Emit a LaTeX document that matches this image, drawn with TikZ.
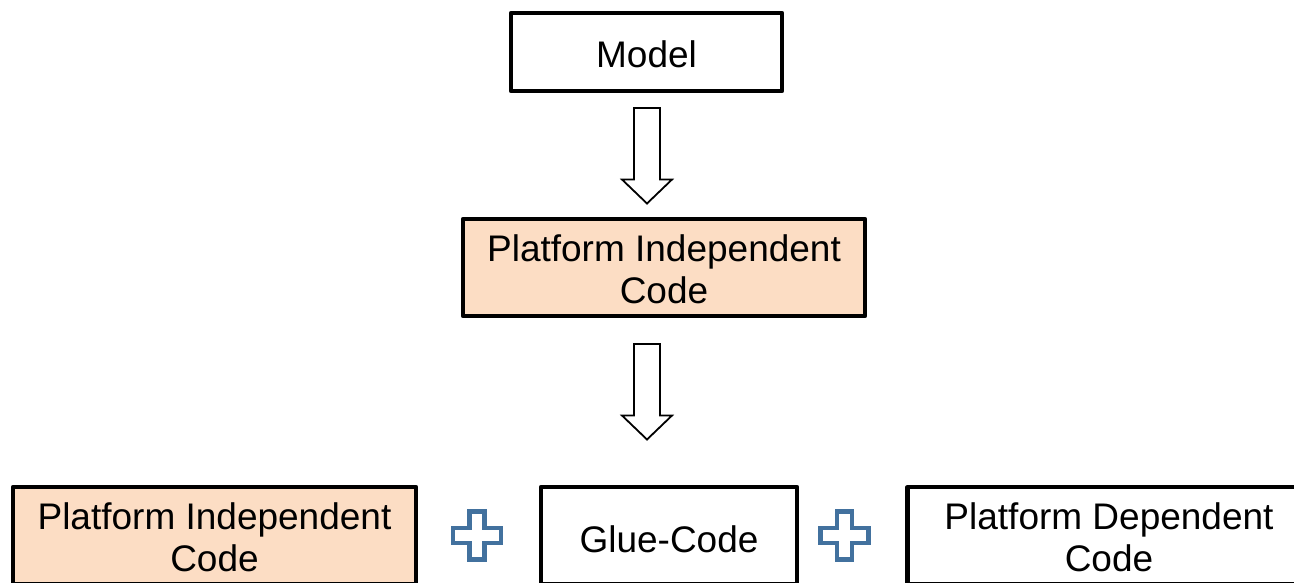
\documentclass[tikz,border=0pt]{standalone}
\usepackage{fontspec}
\setmainfont{Liberation Sans}
\definecolor{peach}{RGB}{252,221,196}
\definecolor{plusblue}{RGB}{66,113,158}
\tikzset{
  box/.style={draw=black, line width=4.2pt, line join=round, rectangle,
    inner sep=0pt, align=center, minimum height=97pt,
    font=\fontsize{37}{42}\selectfont},
  twoline/.style={text height=73pt},
  peachbox/.style={box, fill=peach},
  plainbox/.style={box, fill=white},
  pics/downarrow/.style={code={
    \draw[black, fill=white, line width=1.8pt, line join=miter]
      (-13,0) -- (13,0) -- (13,71.5) -- (25,71.5) -- (0,95.5)
      -- (-25,71.5) -- (-13,71.5) -- cycle;}},
  pics/plussign/.style={code={
    \draw[plusblue, fill=white, line width=4.6pt, line join=miter]
      (-7.5,-24) -- (7.5,-24) -- (7.5,-7.5) -- (24,-7.5) -- (24,7.5)
      -- (7.5,7.5) -- (7.5,24) -- (-7.5,24) -- (-7.5,7.5) -- (-24,7.5)
      -- (-24,-7.5) -- (-7.5,-7.5) -- cycle;}}
}
\begin{document}
\begin{tikzpicture}[x=1pt, y=-1pt]
  \clip (0,0) rectangle (1294,582);
  \fill[white] (0,0) rectangle (1294,582);

  % model and generated code
  \node[plainbox, minimum width=271pt, minimum height=78pt, text height=31pt] (model) at (646.5,52) {Model};
  \node[peachbox, twoline, minimum width=402pt] (pic) at (664,267.5) {Platform Independent\\Code};

  % transformation arrows
  \coordinate (a1) at (647,108);
  \coordinate (a2) at (647,344);
  \pic at (a1) {downarrow};
  \pic at (a2) {downarrow};

  % resulting composition
  \node[peachbox, twoline, minimum width=403pt] (picb) at (214.5,535.5) {Platform Independent\\Code};
  \node[plainbox, minimum width=256pt, text height=33pt, text depth=0pt] (glue) at (669,535.5) {Glue-Code};
  \node[plainbox, twoline, minimum width=403pt] (pdc) at (1109,535.5) {Platform Dependent\\Code};

  \coordinate (p1) at (477,535.5);
  \coordinate (p2) at (844.5,535.5);
  \pic at (p1) {plussign};
  \pic at (p2) {plussign};
\end{tikzpicture}
\end{document}
